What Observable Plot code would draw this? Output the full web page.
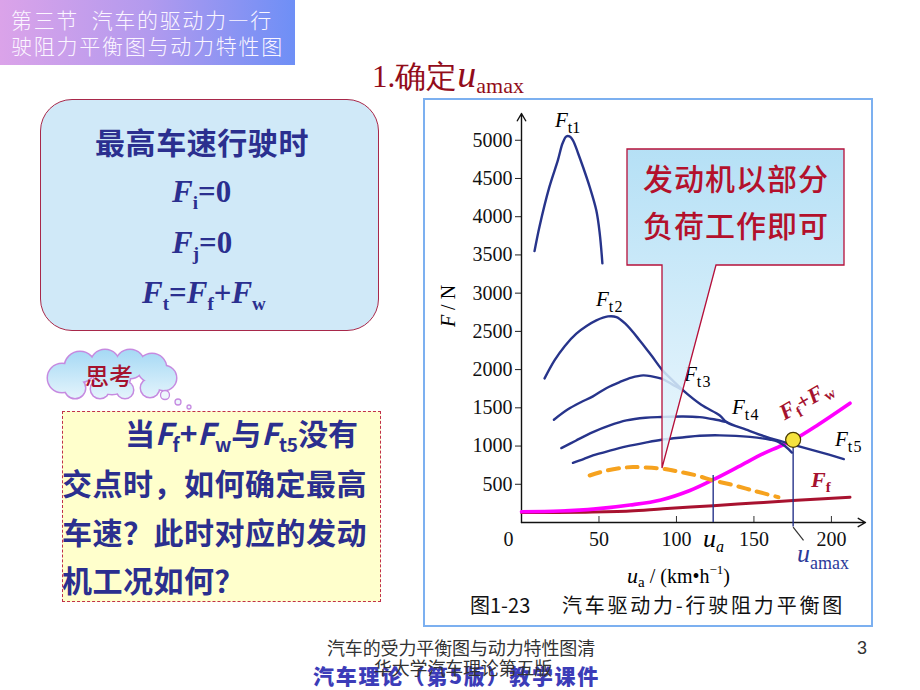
<!DOCTYPE html>
<html lang="zh">
<head>
<meta charset="utf-8">
<title>汽车驱动力-行驶阻力平衡图</title>
<script src="https://cdn.jsdelivr.net/npm/d3@7"></script>
<script src="https://cdn.jsdelivr.net/npm/@observablehq/plot@0.6"></script>
<style>
html,body{margin:0;padding:0;background:#fff;}
#page{position:relative;width:920px;height:690px;overflow:hidden;background:#fff;}
.t{position:absolute;line-height:1;white-space:nowrap;}
.t span,.t i,.t b{line-height:0;}
.sub{position:relative;font-style:normal;}
</style>
</head>
<body>
<div id="page">
  <div style="position:absolute;left:0;top:0;width:295px;height:65px;background:linear-gradient(90deg,#dba3e9 0%,#b39aee 50%,#6e8ff6 100%);"></div>
  <div style="position:absolute;left:40px;top:99px;width:337px;height:230px;border:1.5px solid #a8284a;border-radius:32px;background:#d0e9f8;"></div>
  <div style="position:absolute;left:62px;top:411px;width:317px;height:189px;border:1.5px dashed #c0304a;background:#ffffcc;"></div>
  <div style="position:absolute;left:423px;top:98px;width:446px;height:525px;border:2px solid #7cb0f0;"></div>
</div>
<script>
// ---------------- data (u_a in km/h, F in N) ----------------
const xTicks = [0, 50, 100, 150, 200];
const yTicks = [500, 1000, 1500, 2000, 2500, 3000, 3500, 4000, 4500, 5000];

const Ft1 = [[8.4,3550],[11.6,3870],[18,4390],[23.5,4740],[26.5,4960],[28.9,5050],[31,5050],[33.2,5000],[36.5,4830],[39.7,4650],[44,4390],[48.3,4080],[50.5,3780],[52.2,3390]];
const Ft2 = [[14.9,1885],[21.3,2120],[28,2310],[35.4,2470],[42,2570],[48.3,2644],[55.8,2696],[61.3,2687],[67,2600],[76.3,2382],[84,2180],[91,1990],[97.5,1860],[104.3,1728],[116,1540],[128,1400],[132.4,1313],[145,1215],[158,1120],[175,1020],[192,925],[208,830]];
const Ft3 = [[20.9,1344],[30,1480],[38,1570],[46.1,1650],[55,1760],[63.4,1837],[71,1895],[78.5,1924],[84,1912],[90.4,1881],[97,1810],[104.3,1728]];
const Ft4 = [[25.7,973],[35,1070],[46.1,1182],[57,1270],[67.7,1335],[80,1370],[90.4,1380],[104.3,1387],[115,1378],[124,1350],[132.4,1313]];
const Ft5 = [[33.2,781],[40,830],[46.1,877],[57,940],[67.7,995],[80,1045],[90.4,1082],[105,1115],[115,1135],[128,1140],[147.5,1120],[160,1085],[165,1062],[170,1000],[174.5,915]];
const partLoad = [[44,615],[55,680],[65,715],[72,725],[80,720],[91,703],[100,672],[113,615],[123.7,550],[134.5,500],[150,415],[165.8,331]];
const FfFw = [[0,140],[25,150],[48,178],[70,228],[90,295],[108.7,419],[123.7,560],[140,730],[156,900],[166,990],[175.5,1080],[190,1260],[212,1560]];
const Ff = [[0,130],[40,135],[70,150],[91.4,180],[123.7,220],[150,255],[177.7,290],[212,330]];
const uaPoint = [123.7, 615];
const uamaxPoint = [175.3, 1082];
const uamaxLeader = [{x1:175.3, y1:-60, x2:182, y2:-235}];

// ---------------- chart ----------------
const navy = "#27348b";
const pt = {x: d => d[0], y: d => d[1]};
const smooth = {curve: "catmull-rom"};
const fmt = d => String(d);
const chart = Plot.plot({
  width: 920, height: 690,
  marginLeft: 521, marginRight: 55, marginTop: 113, marginBottom: 168,
  x: {domain: [0, 222]},
  y: {domain: [0, 5350]},
  style: {background: "transparent", fontFamily: "'Liberation Serif','Times New Roman',serif", fontSize: "20px", color: "#111", overflow: "visible"},
  marks: [
    Plot.axisY({ticks: yTicks, tickFormat: fmt, tickSize: 6, tickPadding: 3, label: null, fontSize: 20, stroke: "#222"}),
    Plot.axisX({ticks: xTicks.filter(v => v > 0), tickFormat: fmt, tickSize: 0, tickPadding: 9, label: null, fontSize: 20}),
    Plot.text([xTicks[0]], {x: d => d, frameAnchor: "bottom", lineAnchor: "top", dy: 9, dx: -13, text: fmt, fontSize: 20}),
    Plot.ruleX(xTicks.filter(v => v > 0), {x: d => d, insetTop: 403, stroke: "#333"}),
    Plot.arrow([{x1: 0, y1: 0, x2: 0, y2: 5350}], {x1: "x1", y1: "y1", x2: "x2", y2: "y2", headLength: 9, strokeWidth: 1.4, stroke: "#111"}),
    Plot.arrow([{x1: 0, y1: 0, x2: 222, y2: 0}], {x1: "x1", y1: "y1", x2: "x2", y2: "y2", headLength: 9, strokeWidth: 1.4, stroke: "#111"}),
    Plot.line(Ff, {...pt, ...smooth, stroke: "#a8122f", strokeWidth: 3}),
    Plot.line(FfFw, {...pt, ...smooth, stroke: "#ff00ff", strokeWidth: 3.6}),
    Plot.line(partLoad, {...pt, ...smooth, stroke: "#f6a21e", strokeWidth: 4, strokeDasharray: "11,8"}),
    Plot.line(Ft1, {...pt, ...smooth, stroke: navy, strokeWidth: 2.4}),
    Plot.line(Ft2, {...pt, ...smooth, stroke: navy, strokeWidth: 2.4}),
    Plot.line(Ft3, {...pt, ...smooth, stroke: navy, strokeWidth: 2.4}),
    Plot.line(Ft4, {...pt, ...smooth, stroke: navy, strokeWidth: 2.4}),
    Plot.line(Ft5, {...pt, ...smooth, stroke: navy, strokeWidth: 2.4}),
    Plot.ruleX([uaPoint], {x: d => d[0], y1: 0, y2: d => d[1], stroke: navy, strokeWidth: 1.4}),
    Plot.ruleX([uamaxPoint], {x: d => d[0], y1: -60, y2: d => d[1], stroke: navy, strokeWidth: 1.4}),
    Plot.link(uamaxLeader, {x1: "x1", y1: "y1", x2: "x2", y2: "y2", stroke: "#333", strokeWidth: 1.2}),
    Plot.dot([uamaxPoint], {...pt, r: 7.5, fill: "#f6e33e", stroke: "#4a3c00", strokeWidth: 1.2})
  ]
});
chart.style.position = "absolute";
chart.style.left = "0px";
chart.style.top = "0px";
chart.style.zIndex = 2;
const page = document.getElementById("page");
page.appendChild(chart);

// ---------------- decorations (cloud, callout) ----------------
function overlay(z) {
  const s = d3.create("svg").attr("width", 920).attr("height", 690)
    .style("position", "absolute").style("left", "0px").style("top", "0px").style("z-index", z);
  page.appendChild(s.node());
  return s;
}
const deco = overlay(3);
const defs = deco.append("defs");
const cg = defs.append("linearGradient").attr("id", "cg").attr("gradientUnits", "userSpaceOnUse")
  .attr("x1", 0).attr("y1", 345).attr("x2", 0).attr("y2", 400);
cg.append("stop").attr("offset", 0).attr("stop-color", "#9fd6f4");
cg.append("stop").attr("offset", 1).attr("stop-color", "#e6f5fc");
const cloud = [[62,378,14],[80,367,15],[105,364,14],[130,364,14],[152,368,14],[164,378,12],[150,388,9],[125,390,8],[100,389,9],[75,388,10],[112,376,18]];
deco.selectAll("circle.o").data(cloud).join("circle").attr("class", "o")
  .attr("cx", d => d[0]).attr("cy", d => d[1]).attr("r", d => d[2])
  .attr("fill", "none").attr("stroke", "#c68ae0").attr("stroke-width", 3);
deco.selectAll("circle.i").data(cloud).join("circle").attr("class", "i")
  .attr("cx", d => d[0]).attr("cy", d => d[1]).attr("r", d => d[2]).attr("fill", "url(#cg)");
deco.selectAll("circle.b").data([[165,395,4.5],[178,402,3],[189,407,2]]).join("circle").attr("class", "b")
  .attr("cx", d => d[0]).attr("cy", d => d[1]).attr("r", d => d[2])
  .attr("fill", "#eef7fd").attr("stroke", "#c68ae0").attr("stroke-width", 1.3);

const call = overlay(4);
const kg = call.append("defs").append("linearGradient").attr("id", "kg").attr("gradientUnits", "userSpaceOnUse")
  .attr("x1", 0).attr("y1", 149).attr("x2", 0).attr("y2", 468);
kg.append("stop").attr("offset", 0).attr("stop-color", "#a9dbf4");
kg.append("stop").attr("offset", 1).attr("stop-color", "#eaf6fd");
call.append("path").attr("d", "M627,149H844V265H716L662,468V265H627Z")
  .attr("fill", "url(#kg)").attr("fill-opacity", 0.86).attr("stroke", "#b5103a").attr("stroke-width", 1.3);

// ---------------- text ----------------
const CJK = '"Noto Sans CJK SC","Noto Sans",sans-serif';
const SER = '"Liberation Serif","Times New Roman",serif';
function sub(t, dy = 6, fs = "0.72em", italic = false) {
  return `<span class="sub" style="font-size:${fs};top:${dy}px;${italic ? "font-style:italic;" : ""}">${t}</span>`;
}
function put(html, o) {
  const {x, base, size, fam = "cjk", color = "#000", weight = 400, z = 6, w = null, center = false, extra = ""} = o;
  const d = document.createElement("div");
  d.className = "t";
  d.innerHTML = html;
  const asc = fam === "cjk" ? 0.936 : 0.8375;
  d.style.cssText = `left:${x}px;top:${(base - asc * size).toFixed(1)}px;font-size:${size}px;font-family:${fam === "cjk" ? CJK : SER};color:${color};font-weight:${weight};z-index:${z};${extra}`;
  page.appendChild(d);
  if (w) {
    const n = [...d.textContent].length;
    const m = d.getBoundingClientRect().width;
    d.style.letterSpacing = ((w - m) / n).toFixed(2) + "px";
  }
  if (center) d.style.transform = "translateX(-50%)";
  return d;
}
const NAVY = "#2b2f8f", RED = "#a5122e";
const cs = `<span style="font-family:${CJK}">`;
const ss = `<span style="font-family:${SER}">`;

// title block
put("第三节&nbsp;&nbsp;汽车的驱动力—行", {x: 11, base: 29, size: 21, color: "#fbf6ff", weight: 300, w: 262});
put("驶阻力平衡图与动力特性图", {x: 11, base: 54.5, size: 21, color: "#fbf6ff", weight: 300, w: 273});
put(`1.${cs}确定</span><i style="font-size:38px">u</i>${sub("amax", 6, "22px")}`, {x: 372, base: 87, size: 31, fam: "serif", color: "#920c1a"});

// left rounded box
put("最高车速行驶时", {x: 95, base: 154, size: 30, color: NAVY, weight: 700, w: 214});
put(`<i>F</i>${sub("i", 7, "19px")}=0`, {x: 172, base: 202, size: 31, fam: "serif", color: NAVY, weight: 700});
put(`<i>F</i>${sub("j", 7, "19px")}=0`, {x: 172, base: 253, size: 31, fam: "serif", color: NAVY, weight: 700});
put(`<i>F</i>${sub("t", 7, "19px")}=<i>F</i>${sub("f", 7, "19px")}+<i>F</i>${sub("w", 7, "19px")}`, {x: 142, base: 303, size: 31, fam: "serif", color: NAVY, weight: 700});

// cloud + question
put("思考", {x: 85, base: 385, size: 24, color: RED, weight: 500});
put(`当${ss}<i>F</i>${sub("f", 7, "19px")}+<i>F</i>${sub("w", 7, "19px")}</span>与${ss}<i>F</i>${sub("t5", 7, "19px")}</span>没有`, {x: 125, base: 445.5, size: 30, color: NAVY, weight: 700});
put("交点时，如何确定最高", {x: 62, base: 495.5, size: 30, color: NAVY, weight: 700, w: 305});
put("车速？此时对应的发动", {x: 62, base: 544.5, size: 30, color: NAVY, weight: 700, w: 305});
put("机工况如何？", {x: 62, base: 592.5, size: 30, color: NAVY, weight: 700, w: 183});

// chart labels
const FL = (s) => `<i>F</i>${sub(s, 6, "16px")}`;
put(FL("t1"), {x: 555, base: 128, size: 21, fam: "serif", z: 3});
put(FL("t&#8202;2"), {x: 596, base: 307, size: 21, fam: "serif", z: 3});
put(FL("t&#8202;3"), {x: 684, base: 382, size: 21, fam: "serif", z: 3});
put(FL("t&#8202;4"), {x: 732, base: 415, size: 21, fam: "serif", z: 3});
put(FL("t&#8202;5"), {x: 835, base: 447, size: 21, fam: "serif", z: 3});
put(`<b><i>F</i>${sub("f", 5, "15px")}</b>`, {x: 811, base: 487, size: 22, fam: "serif", color: RED, z: 3});
const ffw = put(`<b><i>F</i>${sub("f", 5, "15px")}+<i>F</i>${sub("w", 5, "15px")}</b>`, {x: 806, base: 400, size: 22, fam: "serif", color: RED, z: 3});
ffw.style.left = "806px"; ffw.style.top = "400px";
ffw.style.transform = "translate(-50%,-50%) rotate(-30deg)";
put(`<i>u</i>${sub("a", 5, "16px", true)}`, {x: 703, base: 548, size: 26, fam: "serif", z: 3});
put(`<i>u</i>${sub("amax", 7, "18px")}`, {x: 797, base: 563, size: 26, fam: "serif", color: "#2b3a9a", z: 3});
put(`<i style="font-size:22px">u</i>${sub("a", 4, "15px")} / (km•h<span class="sub" style="font-size:13px;top:-9px">−1</span>)`, {x: 627, base: 583, size: 20, fam: "serif", z: 3});
const fn = put(`<i>F</i> / N`, {x: 448, base: 306, size: 20, fam: "serif", z: 3});
fn.style.left = "448px"; fn.style.top = "306px";
fn.style.transform = "translate(-50%,-50%) rotate(-90deg)";
put("图1-23", {x: 470, base: 614, size: 20, color: "#111", z: 3});
put("汽车驱动力-行驶阻力平衡图", {x: 562, base: 614, size: 20, color: "#111", w: 283, z: 3});

// callout text
put("发动机以部分", {x: 643, base: 190, size: 30, color: "#b3112c", weight: 500, w: 186, z: 5});
put("负荷工作即可", {x: 643, base: 237, size: 30, color: "#b3112c", weight: 500, w: 186, z: 5});

// footer
put("汽车理论（第5版）教学课件", {x: 313, base: 685, size: 21, color: "#3c3cb8", weight: 900, w: 287, z: 3});
put("汽车的受力平衡图与动力特性图清", {x: 327, base: 655, size: 18, color: "#333", w: 268, z: 6});
put("华大学汽车理论第五版", {x: 374, base: 675, size: 18, color: "#333", w: 178, z: 6});
put("3", {x: 857, base: 654, size: 18, fam: "serif", color: "#333", extra: `font-family:"Liberation Sans",Arial,sans-serif;`});
</script>
</body>
</html>
